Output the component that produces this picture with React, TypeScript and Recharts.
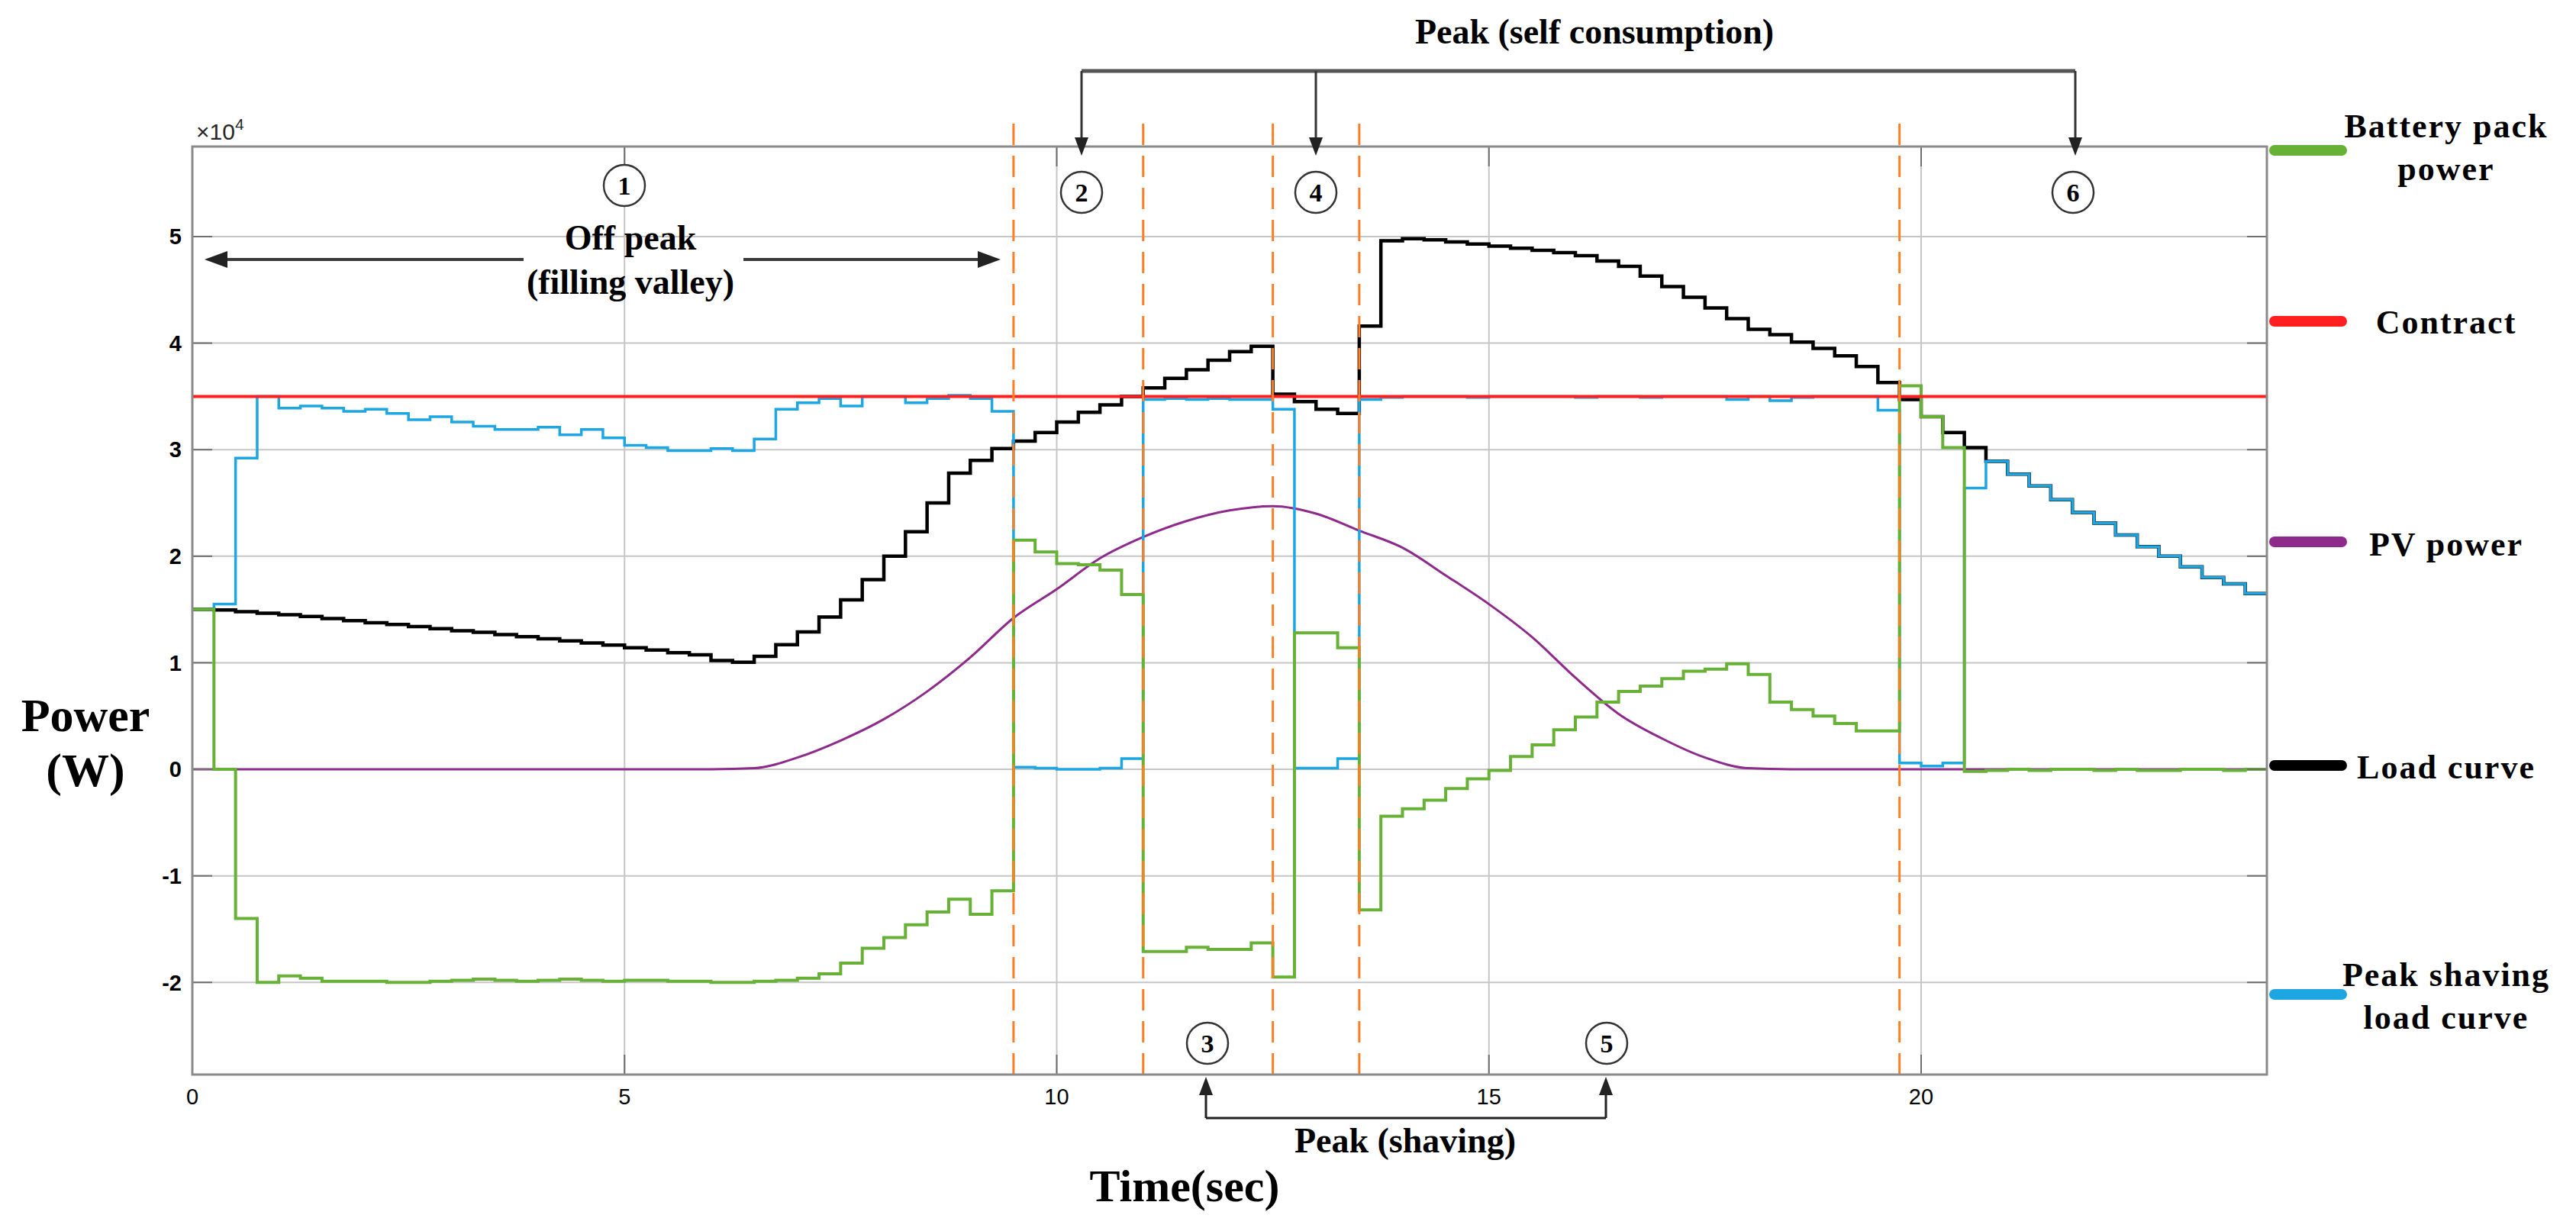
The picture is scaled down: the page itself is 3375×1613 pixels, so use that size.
import { CartesianGrid, Line, LineChart, ReferenceLine, XAxis, YAxis } from "recharts";

// Chart canvas and plot box (pixels)
const WIDTH = 3375;
const HEIGHT = 1613;
const PLOT = { left: 252, right: 2970, top: 192, bottom: 1408 };
const Y_DOMAIN: [number, number] = [-28650, 58450];
const X_DOMAIN: [number, number] = [0, 24];

const STEP_H = 0.25; // one sample every 15 minutes

// Load curve (W), one value per 15-minute step
const loadCurveW = [
  15000, 14950, 14800, 14650, 14500, 14350, 14150, 13950,
  13750, 13600, 13400, 13200, 13000, 12850, 12650, 12450,
  12250, 12050, 11850, 11650, 11400, 11200, 10950, 10750,
  10200, 10050, 10600, 11700, 12900, 14300, 15900, 17800,
  20000, 22300, 25000, 27800, 29000, 30100, 30800, 31600,
  32600, 33500, 34200, 35000, 35800, 36700, 37500, 38400,
  39200, 39700, 35200, 34500, 33800, 33400, 41600, 49600,
  49800, 49700, 49500, 49300, 49100, 48900, 48700, 48500,
  48200, 47700, 47200, 46300, 45300, 44300, 43300, 42300,
  41300, 40800, 40100, 39500, 38800, 37800, 36300, 34700,
  33100, 31600, 30200, 28900, 27700, 26600, 25300, 24100,
  23100, 22000, 20900, 20000, 19000, 18000, 17400, 16500,
];

// Grid power after peak shaving (W)
const shavedLoadW = [
  15000, 15500, 29200, 35000, 33900, 34100, 33900, 33600,
  33800, 33400, 32800, 33100, 32600, 32200, 31900, 31900,
  32100, 31400, 31900, 31100, 30400, 30200, 29900, 29900,
  30100, 29900, 31000, 33800, 34400, 34800, 34100, 35000,
  35000, 34400, 34800, 35100, 34800, 33600, 200, 100,
  0, 0, 100, 1000, 34700, 34800, 34700, 34800,
  34700, 34700, 33800, 100, 100, 1000, 34700, 34900,
  35000, 35000, 35000, 34900, 35000, 35000, 35000, 35000,
  34900, 35000, 35000, 34900, 35000, 35000, 35000, 34700,
  35000, 34600, 34900, 35000, 35000, 35000, 33700, 600,
  300, 600, 26400, 28900, 27700, 26600, 25300, 24100,
  23100, 22000, 20900, 20000, 19000, 18000, 17400, 16500,
];

// Battery pack power (W): positive = discharging
const batteryW = [
  15000, 0, -14000, -20000, -19400, -19600, -19900, -19900,
  -19900, -20000, -20000, -19900, -19800, -19700, -19800, -19900,
  -19800, -19700, -19800, -19900, -19800, -19800, -19900, -19900,
  -20000, -20000, -19900, -19800, -19600, -19200, -18200, -16800,
  -15800, -14600, -13400, -12200, -13600, -11400, 21500, 20400,
  19300, 19200, 18700, 16400, -17100, -17100, -16700, -16900,
  -16900, -16300, -19500, 12800, 12800, 11400, -13200, -4400,
  -3700, -2900, -1800, -900, -100, 1200, 2300, 3700,
  4900, 6300, 7300, 7800, 8500, 9200, 9400, 9900,
  8900, 6300, 5600, 5000, 4300, 3600, 3600, 36000,
  33100, 30200, -200, -100, 0, -100, 0, 0,
  -100, 0, -100, -100, 0, 0, -100, 0,
];

// PV generation (W), sampled every half hour
const pvHours = [
  0, 0.5, 1, 1.5, 2, 2.5, 3, 3.5, 4, 4.5, 5, 5.5, 6, 6.5, 7, 7.5, 8, 8.5,
  9, 9.5, 10, 10.5, 11, 11.5, 12, 12.5, 13, 13.5, 14, 14.5, 15, 15.5, 16,
  16.5, 17, 17.5, 18, 18.5, 19, 19.5, 20, 20.5, 21, 21.5, 22, 22.5, 23,
  23.5, 24,
];
const pvPowerW = [
  0, 0, 0, 0, 0, 0, 0, 0, 0, 0, 0, 0, 0, 100, 1100, 2700, 4700, 7300,
  10500, 14200, 16900, 19800, 21800, 23300, 24300, 24700, 24000, 22400,
  20800, 18200, 15500, 12400, 8600, 5200, 2900, 1100, 100, 0, 0, 0, 0, 0,
  0, 0, 0, 0, 0, 0, 0,
];

const CONTRACT_W = 35000;
const periodBounds = [9.5, 11, 12.5, 13.5, 19.75];

const xTicks = [0, 5, 10, 15, 20];
const yTicks = [-20000, -10000, 0, 10000, 20000, 30000, 40000, 50000];

const stepRows = loadCurveW.map((load, i) => ({
  t: i * STEP_H,
  load,
  shaved: shavedLoadW[i],
  battery: batteryW[i],
}));
// close the last step at the end of the day
stepRows.push({ ...stepRows[stepRows.length - 1], t: X_DOMAIN[1] });

const pvRows = pvHours.map((t, i) => ({ t, pv: pvPowerW[i] }));
const contractRows = X_DOMAIN.map((t) => ({ t, contract: CONTRACT_W }));

const COLORS = {
  battery: "#66b136",
  contract: "#ff1f1f",
  pv: "#8e2a8c",
  load: "#000000",
  shaved: "#1ea6e3",
  bound: "#ff7f27",
};

// pixel helpers for the overlay (same box as the chart's plot area)
const px = (x: number) =>
  PLOT.left + ((x - X_DOMAIN[0]) / (X_DOMAIN[1] - X_DOMAIN[0])) * (PLOT.right - PLOT.left);
const py = (v: number) =>
  PLOT.bottom - ((v - Y_DOMAIN[0]) / (Y_DOMAIN[1] - Y_DOMAIN[0])) * (PLOT.bottom - PLOT.top);

const SERIF = "'Liberation Serif', 'Times New Roman', serif";
const SANS = "'Liberation Sans', Arial, sans-serif";

function Circled({ cx, cy, n }: { cx: number; cy: number; n: string }) {
  return (
    <g>
      <circle cx={cx} cy={cy} r={27} fill="#fff" stroke="#333" strokeWidth={2.5} />
      <text x={cx} y={cy + 12} textAnchor="middle" fontFamily={SERIF} fontWeight="bold" fontSize={34}>
        {n}
      </text>
    </g>
  );
}

function ArrowHead({ x, y, dir }: { x: number; y: number; dir: "up" | "down" | "left" | "right" }) {
  const L = 24;
  const h = 9;
  let pts = "";
  if (dir === "down") pts = `${x},${y} ${x - h},${y - L} ${x + h},${y - L}`;
  if (dir === "up") pts = `${x},${y} ${x - h},${y + L} ${x + h},${y + L}`;
  if (dir === "left") pts = `${x},${y} ${x + L + 6},${y - h - 2} ${x + L + 6},${y + h + 2}`;
  if (dir === "right") pts = `${x},${y} ${x - L - 6},${y - h - 2} ${x - L - 6},${y + h + 2}`;
  return <polygon points={pts} fill="#222" />;
}

const legendItems = [
  { color: COLORS.battery, y: 197, lines: ["Battery pack", "power"], base: 180 },
  { color: COLORS.contract, y: 421, lines: ["Contract"], base: 437 },
  { color: COLORS.pv, y: 710, lines: ["PV power"], base: 728 },
  { color: COLORS.load, y: 1003, lines: ["Load curve"], base: 1020 },
  { color: COLORS.shaved, y: 1303, lines: ["Peak shaving", "load curve"], base: 1292 },
];

function Overlay() {
  const tickLen = 26;
  return (
    <svg
      width={WIDTH}
      height={HEIGHT}
      style={{ position: "absolute", left: 0, top: 0, pointerEvents: "none" }}
    >
      {/* inward ticks and box, MATLAB style */}
      {yTicks.map((v) => (
        <g key={`yt${v}`} stroke="#6e6e6e" strokeWidth={2}>
          <line x1={PLOT.left} x2={PLOT.left + tickLen} y1={py(v)} y2={py(v)} />
          <line x1={PLOT.right} x2={PLOT.right - tickLen} y1={py(v)} y2={py(v)} />
        </g>
      ))}
      {xTicks.map((x) => (
        <g key={`xt${x}`} stroke="#6e6e6e" strokeWidth={2}>
          <line x1={px(x)} x2={px(x)} y1={PLOT.bottom} y2={PLOT.bottom - tickLen} />
          <line x1={px(x)} x2={px(x)} y1={PLOT.top} y2={PLOT.top + tickLen} />
        </g>
      ))}
      <rect
        x={PLOT.left}
        y={PLOT.top}
        width={PLOT.right - PLOT.left}
        height={PLOT.bottom - PLOT.top}
        fill="none"
        stroke="#8a8a8a"
        strokeWidth={3}
      />

      {/* exponent label */}
      <text x={257} y={183} fontFamily={SANS} fontSize={30} fill="#262626">
        ×10
        <tspan dy={-13} fontSize={21}>4</tspan>
      </text>

      {/* axis titles */}
      <text x={112} y={958} textAnchor="middle" fontFamily={SERIF} fontWeight="bold" fontSize={62}>
        Power
      </text>
      <text x={112} y={1030} textAnchor="middle" fontFamily={SERIF} fontWeight="bold" fontSize={62}>
        (W)
      </text>
      <text x={1552} y={1574} textAnchor="middle" fontFamily={SERIF} fontWeight="bold" fontSize={60}>
        Time(sec)
      </text>

      {/* off-peak span */}
      <g stroke="#3a3a3a" strokeWidth={4}>
        <line x1={275} x2={686} y1={340} y2={340} />
        <line x1={974} x2={1305} y1={340} y2={340} />
      </g>
      <ArrowHead x={268} y={340} dir="left" />
      <ArrowHead x={1311} y={340} dir="right" />
      <text x={826} y={327} textAnchor="middle" fontFamily={SERIF} fontWeight="bold" fontSize={46}>
        Off peak
      </text>
      <text x={826} y={385} textAnchor="middle" fontFamily={SERIF} fontWeight="bold" fontSize={46}>
        (filling valley)
      </text>

      {/* self-consumption bracket */}
      <text x={2089} y={57} textAnchor="middle" fontFamily={SERIF} fontWeight="bold" fontSize={46}>
        Peak (self consumption)
      </text>
      <g stroke="#333" strokeWidth={3}>
        <line x1={1417} x2={2719} y1={93} y2={93} strokeWidth={5} stroke="#555" />
        <line x1={1417} x2={1417} y1={93} y2={190} />
        <line x1={1724} x2={1724} y1={93} y2={190} />
        <line x1={2719} x2={2719} y1={93} y2={190} />
      </g>
      <ArrowHead x={1417} y={204} dir="down" />
      <ArrowHead x={1724} y={204} dir="down" />
      <ArrowHead x={2719} y={204} dir="down" />

      {/* shaving bracket */}
      <g stroke="#222" strokeWidth={3}>
        <line x1={1580} x2={2104} y1={1465} y2={1465} />
        <line x1={1580} x2={1580} y1={1465} y2={1425} />
        <line x1={2104} x2={2104} y1={1465} y2={1425} />
      </g>
      <ArrowHead x={1580} y={1411} dir="up" />
      <ArrowHead x={2104} y={1411} dir="up" />
      <text x={1841} y={1510} textAnchor="middle" fontFamily={SERIF} fontWeight="bold" fontSize={46}>
        Peak (shaving)
      </text>

      <Circled cx={818} cy={243} n="1" />
      <Circled cx={1417} cy={252} n="2" />
      <Circled cx={1582} cy={1367} n="3" />
      <Circled cx={1724} cy={252} n="4" />
      <Circled cx={2105} cy={1367} n="5" />
      <Circled cx={2716} cy={252} n="6" />

      {/* legend */}
      {legendItems.map((it) => (
        <g key={it.lines[0]}>
          <line
            x1={2980}
            x2={3068}
            y1={it.y}
            y2={it.y}
            stroke={it.color}
            strokeWidth={14}
            strokeLinecap="round"
          />
          {it.lines.map((s, j) => (
            <text
              key={s}
              x={3205}
              y={it.base + j * 56}
              textAnchor="middle"
              fontFamily={SERIF}
              fontWeight="bold"
              fontSize={44}
              letterSpacing={2}
            >
              {s}
            </text>
          ))}
        </g>
      ))}
    </svg>
  );
}

export default function App() {
  return (
    <div style={{ position: "absolute", left: 0, top: 0, width: WIDTH, height: HEIGHT, background: "#fff" }}>
      <LineChart
        width={WIDTH}
        height={HEIGHT}
        data={stepRows}
        margin={{ top: PLOT.top, right: WIDTH - PLOT.right, bottom: 0, left: 0 }}
      >
        <CartesianGrid stroke="#c6c6c6" strokeWidth={2} />
        <XAxis
          dataKey="t"
          type="number"
          domain={X_DOMAIN}
          ticks={xTicks}
          height={HEIGHT - PLOT.bottom}
          axisLine={false}
          tickLine={false}
          tickSize={0}
          tickMargin={18}
          tick={{ fontSize: 29, fill: "#000", fontFamily: SANS }}
          allowDataOverflow
        />
        <YAxis
          type="number"
          domain={Y_DOMAIN}
          ticks={yTicks}
          width={PLOT.left}
          axisLine={false}
          tickLine={false}
          tickSize={0}
          tickMargin={14}
          tickFormatter={(v: number) => String(v / 10000)}
          tick={{ fontSize: 29, fill: "#000", fontFamily: SANS, fontWeight: "bold" }}
          allowDataOverflow
        />
        <Line
          data={pvRows}
          dataKey="pv"
          type="monotone"
          stroke={COLORS.pv}
          strokeWidth={3}
          dot={false}
          isAnimationActive={false}
        />
        <Line dataKey="load" type="stepAfter" stroke={COLORS.load} strokeWidth={4.5} dot={false} isAnimationActive={false} />
        <Line dataKey="shaved" type="stepAfter" stroke={COLORS.shaved} strokeWidth={3.5} dot={false} isAnimationActive={false} />
        <Line dataKey="battery" type="stepAfter" stroke={COLORS.battery} strokeWidth={4} dot={false} isAnimationActive={false} />
        <Line
          data={contractRows}
          dataKey="contract"
          type="linear"
          stroke={COLORS.contract}
          strokeWidth={4}
          dot={false}
          isAnimationActive={false}
        />
        {periodBounds.map((b) => (
          <ReferenceLine
            key={b}
            segment={[
              { x: b, y: Y_DOMAIN[0] },
              { x: b, y: 61500 },
            ]}
            ifOverflow="visible"
            stroke={COLORS.bound}
            strokeWidth={3}
            strokeDasharray="28 14"
          />
        ))}
      </LineChart>
      <Overlay />
    </div>
  );
}
